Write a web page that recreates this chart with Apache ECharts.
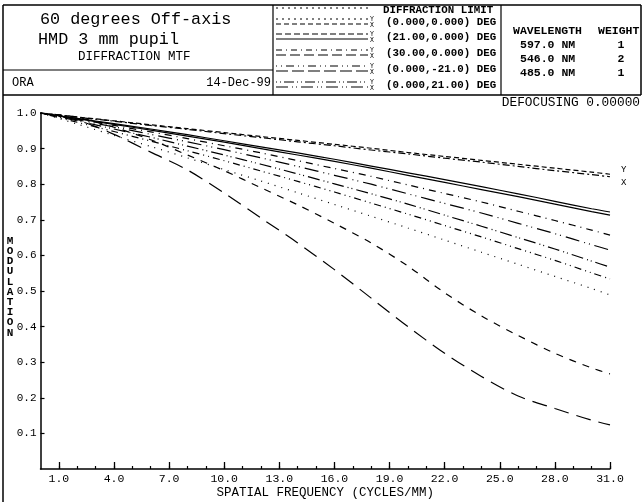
<!DOCTYPE html>
<html><head><meta charset="utf-8">
<script src="https://cdn.jsdelivr.net/npm/echarts@6/dist/echarts.min.js"></script>
<style>html,body{margin:0;padding:0;background:#fff}#c{width:644px;height:502px}</style>
</head><body><div id="c"></div>
<script>
// ---- data ----
const freq = [0,2,4,6,8,10,12,14,16,18,20,22,24,26,28,30,31];
const diffLimitY = [1.0,0.989,0.978,0.967,0.956,0.945,0.934,0.923,0.912,0.901,0.889,0.878,0.867,0.856,0.845,0.834,0.828];
const diffLimitX = [1.0,0.988,0.977,0.965,0.954,0.942,0.931,0.919,0.908,0.896,0.885,0.873,0.862,0.850,0.838,0.827,0.821];
const field00Y   = [1.0,0.985,0.970,0.955,0.939,0.922,0.905,0.888,0.870,0.851,0.832,0.813,0.793,0.773,0.752,0.731,0.722];
const field00X   = [1.0,0.984,0.968,0.952,0.935,0.918,0.900,0.882,0.864,0.845,0.825,0.805,0.785,0.765,0.744,0.723,0.713];
const field21Y   = [1.0,0.983,0.965,0.947,0.928,0.908,0.888,0.866,0.844,0.822,0.798,0.774,0.750,0.724,0.698,0.671,0.657];
const field21X   = [1.0,0.981,0.961,0.940,0.919,0.897,0.874,0.850,0.825,0.800,0.773,0.746,0.719,0.690,0.661,0.630,0.615];
const field30Y   = [1.0,0.978,0.955,0.932,0.907,0.882,0.856,0.829,0.801,0.773,0.744,0.713,0.682,0.650,0.618,0.584,0.567];
const field30X   = [1.0,0.974,0.948,0.921,0.894,0.866,0.837,0.808,0.778,0.747,0.716,0.684,0.652,0.619,0.586,0.551,0.534];
const fieldM21Y  = [1.0,0.969,0.937,0.906,0.874,0.841,0.809,0.776,0.743,0.710,0.677,0.643,0.609,0.575,0.541,0.507,0.489];
const fieldM21X  = [1.0,0.988,0.960,0.925,0.882,0.838,0.790,0.742,0.690,0.635,0.570,0.495,0.430,0.375,0.325,0.284,0.267];
const field21vY  = [1.0,0.980,0.940,0.890,0.840,0.775,0.705,0.635,0.560,0.480,0.400,0.325,0.260,0.205,0.170,0.137,0.124];

const xMajorTicks = [1,4,7,10,13,16,19,22,25,28,31];
const xTickLabels = ['1.0','4.0','7.0','10.0','13.0','16.0','19.0','22.0','25.0','28.0','31.0'];
const xMinorTicks = [1,2,3,4,5,6,7,8,9,10,11,12,13,14,15,16,17,18,19,20,21,22,23,24,25,26,27,28,29,30,31];
const yTicks = [0.1,0.2,0.3,0.4,0.5,0.6,0.7,0.8,0.9,1.0];
const yTickLabels = ['0.1','0.2','0.3','0.4','0.5','0.6','0.7','0.8','0.9','1.0'];

const legendRows = ['(0.000,0.000) DEG','(21.00,0.000) DEG','(30.00,0.000) DEG','(0.000,-21.0) DEG','(0.000,21.00) DEG'];
const wavelengths = ['597.0 NM','546.0 NM','485.0 NM'];
const weights = ['1','2','1'];

// ---- chart ----
const FONT = '"Liberation Mono","DejaVu Sans Mono",monospace';
const chart = echarts.init(document.getElementById('c'), null, {renderer:'canvas'});

function pts(arr){ return freq.map((f,i)=>[f,arr[i]]); }
function line(name, arr, dash, extra){
  return Object.assign({
    type:'line', name, data:pts(arr), showSymbol:false, smooth:0.3,
    lineStyle:{color:'#000', width:1.2, type:dash},
    silent:true, animation:false, z:3
  }, extra||{});
}

const series = [
  line('diffY', diffLimitY, [5,3], {endLabel:{show:true, formatter:'Y', fontFamily:FONT, fontSize:9, color:'#000', offset:[3,-5]}}),
  line('diffX', diffLimitX, [7,3,2,3], {endLabel:{show:true, formatter:'X', fontFamily:FONT, fontSize:9, color:'#000', offset:[3,6]}}),
  line('f00Y', field00Y, 'solid'),
  line('f00X', field00X, 'solid'),
  line('f21Y', field21Y, [7,5,1,5]),
  line('f21X', field21X, [14,5,1,4,1,5]),
  line('f30Y', field30Y, [12,4,1,3,1,4]),
  line('f30X', field30X, [1,4,1,4,7,4]),
  line('fm21Y', fieldM21Y, [1,6]),
  line('fm21X', fieldM21X, [7,7]),
  line('f21vY', field21vY, [15,8])
];

// legend sample lines
const legendDashes = [
  [[2,4],[5,3]],
  [[6,3],'solid'],
  [[6,4,1,4],[10,4]],
  [[1,4,1,4,8,4],[12,4]],
  [[1,3,1,3,10,3],[12,4,1,3,1,4]]
];
const rowY = [22,37,53,69,85];
const graphics = [];
function hline(x1,y1,x2,y2,w){ graphics.push({type:'line', shape:{x1,y1,x2,y2}, style:{stroke:'#000', lineWidth:w||1.2}, silent:true}); }
function txt(x,y,t,size,opts){ graphics.push({type:'text', x, y, silent:true, style:Object.assign({text:t, font:(opts&&opts.bold?'bold ':'')+size+'px '+FONT, fill:'#000', textVerticalAlign:'middle', textAlign:'left'}, opts||{})}); }

// frame
hline(3,5,641,5,1.5);
hline(3,95,641,95,1.5);
hline(3,5,3,502,1.5);
hline(641,5,641,95,1.5);
hline(273,5,273,95,1.2);
hline(501,5,501,95,1.2);
hline(3,70,273,70,1.2);

txt(40,20,'60 degrees Off-axis',16.8);
txt(38,40,'HMD 3 mm pupil',16.8);
txt(78,57,'DIFFRACTION MTF',12.5);
txt(12,83,'ORA',12);
txt(271,83,'14-Dec-99',12,{textAlign:'right'});

// legend
graphics.push({type:'line', shape:{x1:276,y1:8,x2:368,y2:8}, style:{stroke:'#000', lineWidth:1, lineDash:[2,4]}, silent:true});
txt(383,10,'DIFFRACTION LIMIT',10.8,{bold:true});
legendRows.forEach((t,i)=>{
  const y = rowY[i];
  graphics.push({type:'line', shape:{x1:276,y1:y-3,x2:368,y2:y-3}, style:{stroke:'#000', lineWidth:1.1, lineDash:legendDashes[i][0]==='solid'?null:legendDashes[i][0]}, silent:true});
  graphics.push({type:'line', shape:{x1:276,y1:y+2,x2:368,y2:y+2}, style:{stroke:'#000', lineWidth:1.1, lineDash:legendDashes[i][1]==='solid'?null:legendDashes[i][1]}, silent:true});
  txt(370,y-3,'Y',6.5);
  txt(370,y+3,'X',6.5);
  txt(386,y,t,10.8,{bold:true});
});

// wavelength box
txt(513,31,'WAVELENGTH',11.5,{bold:true});
txt(598,31,'WEIGHT',11.5,{bold:true});
wavelengths.forEach((w,i)=>{
  txt(520,45+i*14,w,11.5,{bold:true});
  txt(621,45+i*14,weights[i],11.5,{bold:true, textAlign:'center'});
});

txt(640,103,'DEFOCUSING 0.00000',12.8,{textAlign:'right'});

// y axis name, stacked letters
graphics.push({type:'text', x:10, y:236, silent:true, style:{text:'M\nO\nD\nU\nL\nA\nT\nI\nO\nN', font:'bold 11px '+FONT, fill:'#000', textAlign:'center', textVerticalAlign:'top', lineHeight:10.2}});

const gridPos = {left:40.5, right:34, top:113, bottom:33, containLabel:false, outerBoundsMode:'none'};
const option = {
  animation:false,
  backgroundColor:'#fff',
  grid: gridPos,
  xAxis:[{
    type:'value', min:0, max:31,
    axisLine:{show:true, onZero:false, lineStyle:{color:'#000', width:1.5}},
    axisTick:{show:true, inside:true, length:7, customValues:xMajorTicks, lineStyle:{color:'#000', width:1.3}},
    axisLabel:{show:true, customValues:xMajorTicks, formatter:(v)=>xTickLabels[xMajorTicks.indexOf(Math.round(v))]||'', fontFamily:FONT, fontSize:11.5, color:'#000', margin:4},
    splitLine:{show:false},
    name:'SPATIAL FREQUENCY (CYCLES/MM)', nameLocation:'middle', nameGap:17, nameMoveOverlap:false,
    nameTextStyle:{fontFamily:FONT, fontSize:12.5, color:'#000', verticalAlign:'top'}
  },{
    type:'value', min:0, max:31, position:'bottom', gridIndex:0,
    axisLine:{show:false},
    axisTick:{show:true, inside:true, length:3, customValues:xMinorTicks, lineStyle:{color:'#000', width:1.2}},
    axisLabel:{show:false},
    splitLine:{show:false}
  }],
  yAxis:{
    type:'value', min:0, max:1,
    axisLine:{show:true, lineStyle:{color:'#000', width:1.5}},
    axisTick:{show:true, inside:true, length:4, customValues:yTicks, lineStyle:{color:'#000', width:1.2}},
    axisLabel:{show:true, customValues:yTicks, formatter:(v)=>{const i=yTicks.findIndex(t=>Math.abs(t-v)<1e-6);return i>=0?yTickLabels[i]:'';}, fontFamily:FONT, fontSize:11, color:'#000', margin:4},
    splitLine:{show:false}
  },
  series: series,
  graphic: graphics
};
chart.setOption(option);
</script></body></html>
